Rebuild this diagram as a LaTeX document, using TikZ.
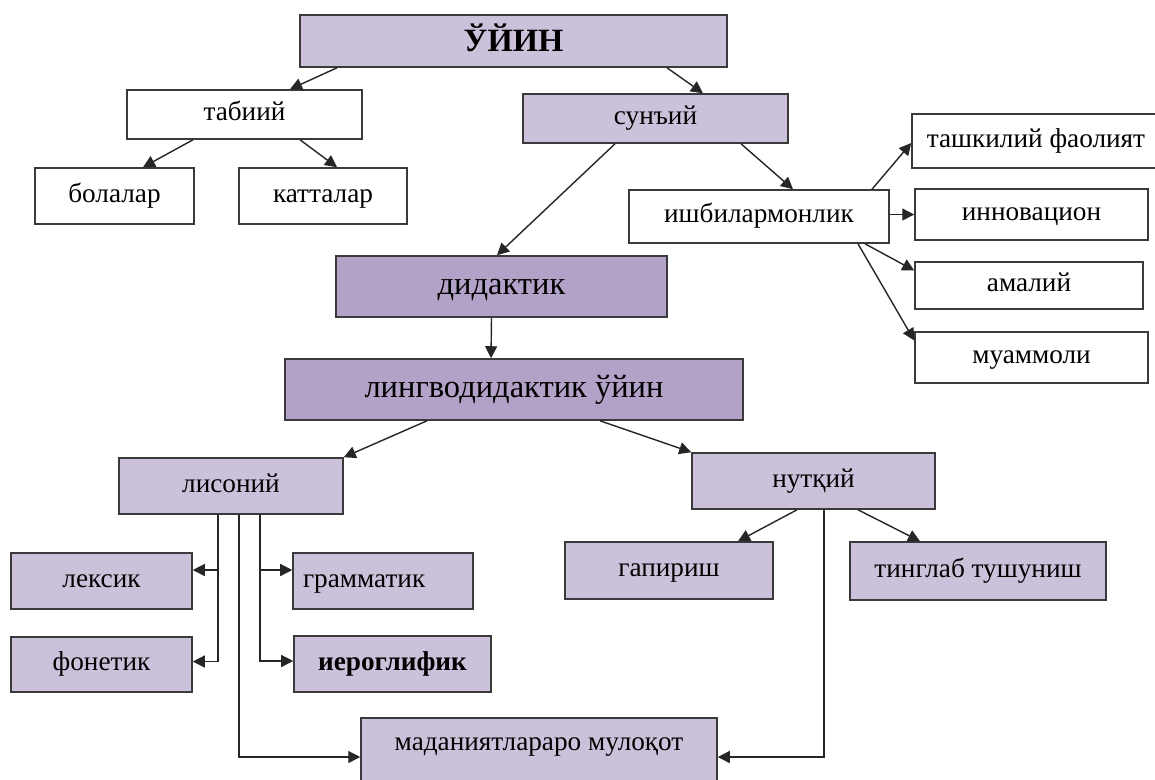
\documentclass[tikz,border=0pt]{standalone}
\usepackage{fontspec}
\setmainfont{Liberation Serif}
\usetikzlibrary{calc,arrows.meta}
\definecolor{lilac}{HTML}{CCC1DA}
\definecolor{lilacdark}{HTML}{B3A2C7}
\definecolor{edgegray}{HTML}{3A3A3A}
\newcommand{\boxfont}{\fontsize{15.5}{18}\selectfont}
\newcommand{\bigboxfont}{\fontsize{18.5}{22}\selectfont}
\tikzset{
	box/.style={draw=edgegray, line width=0.9pt, fill=white, inner sep=0pt, font=\boxfont, text height=0.36cm, text depth=0.12cm},
	pale/.style={box, fill=lilac},
	deep/.style={box, fill=lilacdark, font=\bigboxfont, text height=0.42cm, text depth=0.12cm},
	link/.style={-{Triangle[length=2.4mm,width=2.4mm]}, line width=0.8pt, black!85},
}

\begin{document}
\begin{tikzpicture}[x=0.02cm,y=-0.02cm]
	\clip (0,0) rectangle (1155,779);
	\fill[white] (0,0) rectangle (1155,779);

	\node[pale, font=\bigboxfont\bfseries, text height=0.5cm, text depth=0.07cm, minimum width=8.54cm, minimum height=1.04cm] (uyin) at (513.5,41) {ЎЙИН};
	\node[box, minimum width=4.7cm, minimum height=0.98cm] (tabiiy) at (244.5,114.5) {табиий};
	\node[box, minimum width=3.18cm, minimum height=1.12cm] (bolalar) at (114.5,196) {болалар};
	\node[box, minimum width=3.36cm, minimum height=1.12cm] (kattalar) at (323,196) {катталар};
	\node[pale, minimum width=5.3cm, minimum height=0.98cm] (suniy) at (655.5,118.5) {сунъий};
	\node[box, minimum width=5.2cm, minimum height=1.06cm] (ishbil) at (759,216.5) {ишбилармонлик};
	\node[box, minimum width=4.96cm, minimum height=1.08cm] (tashkil) at (1036,141) {ташкилий фаолият};
	\node[box, minimum width=4.66cm, minimum height=1.02cm] (innov) at (1031.5,214.5) {инновацион};
	\node[box, minimum width=4.56cm, minimum height=0.94cm] (amaliy) at (1029,285.5) {амалий};
	\node[box, minimum width=4.66cm, minimum height=1.02cm] (muammo) at (1031.5,357.5) {муаммоли};
	\node[deep, minimum width=6.62cm, minimum height=1.22cm] (didakt) at (501.5,286.5) {дидактик};
	\node[deep, minimum width=9.16cm, minimum height=1.22cm] (lingvo) at (514,389.5) {лингводидактик ўйин};
	\node[pale, minimum width=4.48cm, minimum height=1.12cm] (lisoniy) at (231,486) {лисоний};
	\node[pale, minimum width=4.86cm, minimum height=1.12cm] (nutqiy) at (813.5,481) {нутқий};
	\node[pale, minimum width=3.62cm, minimum height=1.12cm] (leksik) at (101.5,581) {лексик};
	\node[pale, minimum width=3.62cm, minimum height=1.1cm] (fonetik) at (101.5,664.5) {фонетик};
	\node[pale, text width=3.2cm, inner xsep=0.2cm, align=left, minimum height=1.12cm] (grammat) at (383,581) {грамматик};
	\node[pale, font=\boxfont\bfseries, minimum width=3.94cm, minimum height=1.12cm] (ieroglif) at (392.5,664) {иероглифик};
	\node[pale, minimum width=4.16cm, minimum height=1.14cm] (gapirish) at (669,570.5) {гапириш};
	\node[pale, minimum width=5.12cm, minimum height=1.16cm] (tinglab) at (978,571) {тинглаб тушуниш};
	\node[pale, minimum width=7.12cm, minimum height=1.64cm, text height=0.35cm, text depth=0.71cm] (madaniyat) at (539,759) {маданиятлараро мулоқот};

	\draw[link] ($(uyin.south)+(-176.5,0)$) -- ($(tabiiy.north)+(45.5,0)$);
	\draw[link] ($(uyin.south)+(153.5,0)$) -- ($(suniy.north)+(47.5,0)$);
	\draw[link] ($(tabiiy.south)+(-51.5,0)$) -- ($(bolalar.north)+(28.5,0)$);
	\draw[link] ($(tabiiy.south)+(55.5,0)$) -- ($(kattalar.north)+(14,0)$);
	\draw[link] ($(suniy.south)+(85.5,0)$) -- ($(ishbil.north)+(34,0)$);
	\draw[link] ($(suniy.south)+(-40.5,0)$) -- ($(didakt.north)+(-4.5,0)$);
	\draw[link] ($(ishbil.north)+(113,0)$) -- ($(tashkil.west)+(0,2)$);
	\draw[link] ($(ishbil.east)+(0,-2)$) -- (innov.west);
	\draw[link] ($(ishbil.south)+(106,0)$) -- ($(amaliy.west)+(0,-15)$);
	\draw[link] ($(ishbil.south)+(99,0)$) -- ($(muammo.west)+(0,-17)$);
	\draw[link] ($(didakt.south)+(-10,0)$) -- ($(lingvo.north)+(-23,0)$);
	\draw[link] ($(lingvo.south)+(-87,0)$) -- (lisoniy.north east);
	\draw[link] ($(lingvo.south)+(86,0)$) -- (nutqiy.north west);
	\draw[link] ($(lisoniy.south)+(-13,0)$) |- ($(leksik.east)+(0,-11)$);
	\draw[link] ($(lisoniy.south)+(-13,0)$) |- ($(fonetik.east)+(0,-3)$);
	\draw[link] ($(lisoniy.south)+(29,0)$) |- ($(grammat.west)+(0,-11)$);
	\draw[link] ($(lisoniy.south)+(29,0)$) |- ($(ieroglif.west)+(0,-3)$);
	\draw[link] ($(lisoniy.south)+(8,0)$) |- ($(madaniyat.west)+(0,-2)$);
	\draw[link] ($(nutqiy.south)+(-16.5,0)$) -- ($(gapirish.north)+(69,0)$);
	\draw[link] ($(nutqiy.south)+(44.5,0)$) -- ($(tinglab.north)+(-58,0)$);
	\draw[link] ($(nutqiy.south)+(10.5,0)$) |- ($(madaniyat.east)+(0,-2)$);
\end{tikzpicture}
\end{document}
